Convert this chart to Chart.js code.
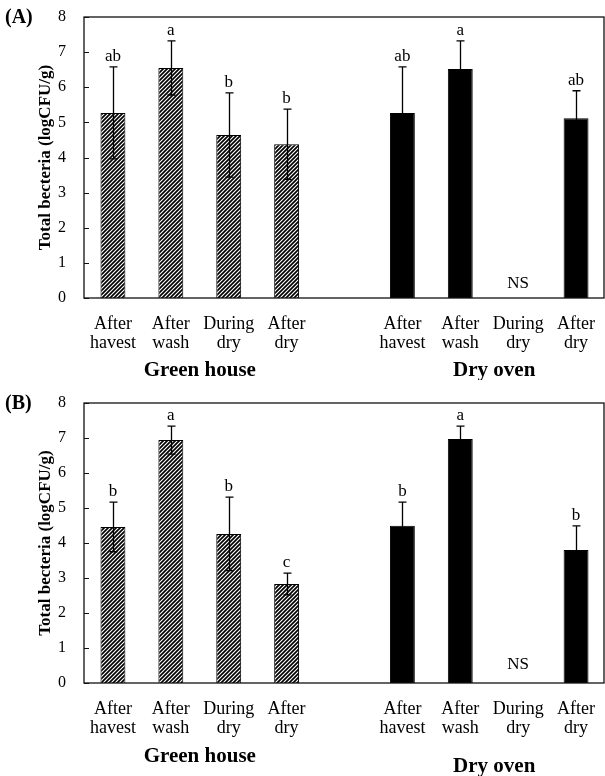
<!DOCTYPE html>
<html>
<head>
<meta charset="utf-8">
<script src="https://cdn.jsdelivr.net/npm/chart.js@4.4.0/dist/chart.umd.min.js"></script>
<style>
  body { margin: 0; background: #fff; }
  canvas { display: block; }
</style>
</head>
<body>
<canvas id="chartA" width="605" height="380"></canvas>
<canvas id="chartB" width="605" height="396"></canvas>
<script>
// --- Data ---
const categories = [['After', 'havest'], ['After', 'wash'], ['During', 'dry'], ['After', 'dry'], '',
                    ['After', 'havest'], ['After', 'wash'], ['During', 'dry'], ['After', 'dry']]
const groupNames = ['Green house', 'Dry oven']
const yTicks = [0, 1, 2, 3, 4, 5, 6, 7, 8]

// panel A
const meansA = [5.27, 6.55, 4.64, 4.38, null, 5.27, 6.52, null, 5.12]
const errA = [1.31, 0.77, 1.2, 1.0, null, 1.31, 0.8, null, 0.78]
const lettersA = ['ab', 'a', 'b', 'b', '', 'ab', 'a', 'NS', 'ab']

// panel B
const meansB = [4.46, 6.94, 4.26, 2.83, null, 4.49, 6.97, null, 3.8]
const errB = [0.71, 0.4, 1.05, 0.31, null, 0.68, 0.37, null, 0.69]
const lettersB = ['b', 'a', 'b', 'c', '', 'b', 'a', 'NS', 'b']

const SERIF = '"Liberation Serif", "Times New Roman", serif'

// --- Hatch pattern ---
function makeHatch(ctx) {
    const c = document.createElement('canvas')
    c.width = 4; c.height = 4
    const g = c.getContext('2d')
    g.fillStyle = '#fff'
    g.fillRect(0, 0, 4, 4)
    g.strokeStyle = '#000'
    g.lineWidth = 1.7
    g.beginPath()
    g.moveTo(0, 4); g.lineTo(4, 0)
    g.moveTo(-1, 1); g.lineTo(1, -1)
    g.moveTo(3, 5); g.lineTo(5, 3)
    g.stroke()
    return ctx.createPattern(c, 'repeat')
}

// --- Extra drawing: box, inner ticks, error bars, letters, group names ---
const extrasPlugin = {
    id: 'extras',
    afterDatasetsDraw(chart, args, opts) {
        const { ctx, chartArea, scales } = chart
        ctx.save()
        ctx.strokeStyle = '#111'
        ctx.lineWidth = 1.3
        ctx.strokeRect(chartArea.left, chartArea.top, chartArea.right - chartArea.left - 1, chartArea.bottom - chartArea.top)

        // inward ticks on y
        ctx.lineWidth = 1
        yTicks.forEach(v => {
            const y = Math.round(scales.y.getPixelForValue(v)) + 0.5
            ctx.beginPath()
            ctx.moveTo(chartArea.left, y)
            ctx.lineTo(chartArea.left + 5, y)
            ctx.stroke()
        })

        // error bars + letters
        ctx.fillStyle = '#000'
        ctx.font = '17px ' + SERIF
        ctx.textAlign = 'center'
        ctx.textBaseline = 'alphabetic'
        opts.means.forEach((m, i) => {
            const x = scales.x.getPixelForValue(i)
            if (m == null) {
                if (opts.letters[i]) ctx.fillText(opts.letters[i], x, scales.y.getPixelForValue(0) - opts.nsGap)
                return
            }
            const e = opts.errs[i]
            const yTop = scales.y.getPixelForValue(m + e)
            const yBot = scales.y.getPixelForValue(m - e)
            const xs = Math.round(x) + 0.5
            ctx.strokeStyle = '#000'
            ctx.lineWidth = 1.3
            ctx.beginPath()
            ctx.moveTo(xs, yTop); ctx.lineTo(xs, yBot)
            ctx.moveTo(xs - 4, yTop); ctx.lineTo(xs + 4, yTop)
            ctx.moveTo(xs - 4, yBot); ctx.lineTo(xs + 4, yBot)
            ctx.stroke()
            ctx.fillText(opts.letters[i], x, yTop - 6)
        })

        // group names
        ctx.font = 'bold 21px ' + SERIF
        const g1 = (scales.x.getPixelForValue(0) + scales.x.getPixelForValue(3)) / 2
        const g2 = (scales.x.getPixelForValue(5) + scales.x.getPixelForValue(8)) / 2 + 5
        ctx.fillText(groupNames[0], g1, chartArea.bottom + opts.groupY[0])
        ctx.fillText(groupNames[1], g2, chartArea.bottom + opts.groupY[1])

        // panel label
        ctx.font = 'bold 20px ' + SERIF
        ctx.textAlign = 'left'
        ctx.textBaseline = 'middle'
        ctx.fillText(opts.panel, 5, chartArea.top + 1)
        ctx.restore()
    }
}

function buildChart(canvasId, means, errs, letters, panel, topPad, axisH, groupY, nsGap) {
    const ctx = document.getElementById(canvasId).getContext('2d')
    const hatch = makeHatch(ctx)
    const colors = means.map((v, i) => i < 4 ? hatch : '#000')
    return new Chart(ctx, {
        type: 'bar',
        data: {
            labels: categories,
            datasets: [{
                data: means,
                backgroundColor: colors,
                borderColor: '#000',
                borderWidth: 1,
                categoryPercentage: 1,
                barPercentage: 0.43
            }]
        },
        options: {
            responsive: false,
            animation: false,
            layout: { padding: { top: topPad, right: 0, left: 0, bottom: 0 } },
            plugins: {
                legend: { display: false },
                tooltip: { enabled: false },
                extras: { means: means, errs: errs, letters: letters, panel: panel, groupY: groupY, nsGap: nsGap }
            },
            scales: {
                x: {
                    grid: { display: false },
                    border: { display: false },
                    ticks: { color: '#000', font: { family: SERIF, size: 18, lineHeight: 1.05 }, padding: 9, maxRotation: 0, autoSkip: false },
                    afterFit: s => { s.height = axisH; s.paddingLeft = 0; s.paddingRight = 0 }
                },
                y: {
                    min: 0,
                    max: 8,
                    grid: { display: false },
                    border: { display: false },
                    ticks: { stepSize: 1, color: '#000', font: { family: SERIF, size: 16 }, padding: 10 },
                    title: {
                        display: true,
                        text: 'Total becteria (logCFU/g)',
                        color: '#000',
                        font: { family: SERIF, size: 17, weight: 'bold' },
                        padding: { top: 35, bottom: 0 }
                    },
                    afterFit: s => { s.width = 84; s.paddingTop = 0; s.paddingBottom = 0 }
                }
            }
        },
        plugins: [extrasPlugin]
    })
}

// --- Main ---
buildChart('chartA', meansA, errA, lettersA, '(A)', 17, 82, [78, 78], 10)
buildChart('chartB', meansB, errB, lettersB, '(B)', 23, 93, [79, 89], 14)
</script>
</body>
</html>
